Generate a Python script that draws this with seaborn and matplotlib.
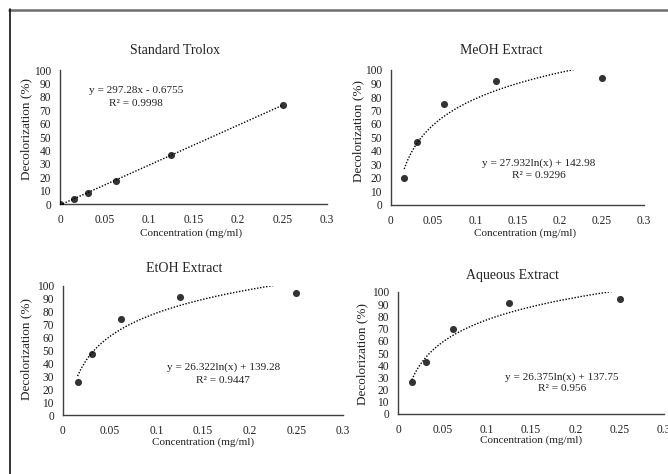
import matplotlib
matplotlib.use("Agg")
import matplotlib.pyplot as plt
import seaborn as sns
import pandas as pd
from matplotlib.lines import Line2D

sns.set_theme(style="white")
plt.rcParams['font.family'] = ['Liberation Serif', 'DejaVu Serif']

# ---- data ----
trolox_conc = [0.0, 0.015625, 0.03125, 0.0625, 0.125, 0.25]
trolox_decol = [0.0, 3.6, 8.4, 17.3, 36.6, 73.8]

extract_conc = [0.015625, 0.03125, 0.0625, 0.125, 0.25]
meoh_decol = [20.0, 46.3, 75.1, 91.8, 94.3]
etoh_decol = [25.8, 46.9, 74.5, 91.2, 94.8]
aqueous_decol = [26.2, 43.0, 69.4, 90.9, 93.9]

titles = ["Standard Trolox", "MeOH Extract", "EtOH Extract", "Aqueous Extract"]
equations = ["y = 297.28x - 0.6755", "y = 27.932ln(x) + 142.98",
             "y = 26.322ln(x) + 139.28", "y = 26.375ln(x) + 137.75"]
r2_labels = ["R² = 0.9998", "R² = 0.9296", "R² = 0.9447", "R² = 0.956"]
x_ticks = [0, 0.05, 0.1, 0.15, 0.2, 0.25, 0.3]
x_tick_labels = ["0", "0.05", "0.1", "0.15", "0.2", "0.25", "0.3"]
y_ticks = list(range(0, 101, 10))

W, H = 668, 474
fig = plt.figure(figsize=(W / 100, H / 100), dpi=100)

def px_axes(l, r, t, b):
    return fig.add_axes([l / W, 1 - b / H, (r - l) / W, (b - t) / H])

panels = [
    dict(box=(60, 327, 70, 204), x=trolox_conc, y=trolox_decol, logx=False,
         title_xy=(175, 51), ylab_xy=(26, 129), xlab_xy=(191, 233),
         eq_xy=(0.0854, 85), r2_xy=(0.0854, 75)),
    dict(box=(391, 644, 70, 205), x=extract_conc, y=meoh_decol, logx=True,
         title_xy=(501, 51), ylab_xy=(358, 131), xlab_xy=(525, 233),
         eq_xy=(0.175, 31), r2_xy=(0.175, 22)),
    dict(box=(63, 343, 286, 415), x=extract_conc, y=etoh_decol, logx=True,
         title_xy=(184, 268), ylab_xy=(26, 349), xlab_xy=(203, 442),
         eq_xy=(0.1717, 37), r2_xy=(0.1717, 27)),
    dict(box=(398, 664, 292, 414), x=extract_conc, y=aqueous_decol, logx=True,
         title_xy=(512, 276), ylab_xy=(362, 354), xlab_xy=(531, 440),
         eq_xy=(0.185, 30), r2_xy=(0.185, 20.7)),
]

for i, p in enumerate(panels):
    ax = px_axes(*p["box"])
    df = pd.DataFrame({"conc": p["x"], "decol": p["y"]})
    sns.regplot(data=df, x="conc", y="decol", ax=ax, ci=None, logx=p["logx"],
                scatter_kws=dict(s=26, color="black", zorder=3, linewidths=0),
                line_kws=dict(color="black", ls=(0, (1, 1.2)), lw=1.0))
    ax.set_xlim(0, 0.3)
    ax.set_ylim(0, 100)
    ax.set_xticks(x_ticks)
    ax.set_xticklabels(x_tick_labels)
    ax.set_yticks(y_ticks)
    ax.set_xlabel("")
    ax.set_ylabel("")
    ax.tick_params(length=0, labelsize=8.3, colors="#222222")
    ax.tick_params(axis="y", pad=6.5)
    ax.tick_params(axis="x", pad=7)
    for s in ["top", "right"]:
        ax.spines[s].set_visible(False)
    for s in ["left", "bottom"]:
        ax.spines[s].set_color("#404040")
        ax.spines[s].set_linewidth(1.0)
    ax.set_facecolor("none")
    ax.text(*p["eq_xy"], equations[i], ha="center", va="center", fontsize=8.1, color="#222222")
    ax.text(*p["r2_xy"], r2_labels[i], ha="center", va="center", fontsize=8.1, color="#222222")
    fig.text(p["title_xy"][0] / W, 1 - p["title_xy"][1] / H, titles[i],
             ha="center", va="center", fontsize=10, color="#222222")
    fig.text(p["ylab_xy"][0] / W, 1 - p["ylab_xy"][1] / H, "Decolorization (%)",
             ha="center", va="center", rotation=90, fontsize=9.5, color="#222222")
    fig.text(p["xlab_xy"][0] / W, 1 - p["xlab_xy"][1] / H, "Concentration (mg/ml)",
             ha="center", va="center", fontsize=8, color="#222222")

# outer frame lines
fig.add_artist(Line2D([9 / W, 1.0], [1 - 9.5 / H, 1 - 9.5 / H], color="#6e6e6e", lw=1.8,
                      transform=fig.transFigure))
fig.add_artist(Line2D([9.5 / W, 9.5 / W], [1 - 9 / H, 0], color="#111111", lw=1.2,
                      transform=fig.transFigure))

fig.savefig("out.png", dpi=100)
